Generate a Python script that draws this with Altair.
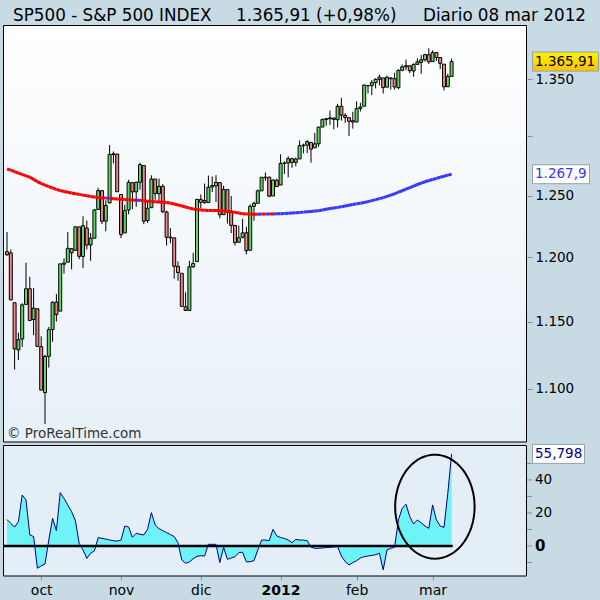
import altair as alt
import pandas as pd
import numpy as np

# ---------------- data ----------------
opens = [1204.50,1203.63,1164.55,1128.82,1136.91,1163.32,1175.39,1151.74,1159.93,
1131.21,1097.42,1124.03,1144.11,1165.03,1158.15,1194.60,1196.19,1206.96,1205.65,1224.47,1200.75,1223.46,1209.92,1215.39,1238.72,1254.19,1229.17,1243.97,1284.39,1284.96,
1251.00,1219.62,1238.25,1260.82,1253.21,1261.12,1275.18,1229.59,1240.12,1263.85,1251.70,1257.81,1236.56,1216.19,1215.62,1192.98,1187.48,1161.41,1158.67,1192.56,1196.72,
1246.91,1246.03,1244.33,1257.19,1258.14,1260.87,1234.48,1255.05,1236.83,1225.73,1212.12,1216.09,1219.74,1205.72,1241.25,1243.72,1254.00,1265.02,1265.38,1249.75,1262.82,
1258.86,1277.03,1277.30,1280.93,1277.83,1280.77,1292.02,1292.48,1294.82,1290.22,1293.65,1308.07,1314.49,1315.29,1315.96,1314.40,1326.28,1318.25,1316.16,1313.53,
1312.45,1324.24,1326.21,1344.32,1344.33,1347.04,1349.97,1351.21,1343.06,1351.30,1350.52,1342.61,1358.06,1361.22,1362.11,1357.53,1363.46,1365.20,1367.56,1372.20,
1365.90,1374.09,1369.59,1363.63,1343.39,1352.65]
highs = [1220.39,1206.30,1164.55,1141.72,1164.19,1195.86,1184.71,1175.87,1159.93,
1138.99,1125.12,1146.07,1165.55,1171.40,1194.91,1199.24,1220.25,1207.46,1224.61,1224.47,1233.10,1229.64,1219.53,1239.03,1256.55,1254.19,1246.28,1292.66,1287.08,1284.96,
1251.00,1242.48,1263.21,1260.82,1261.70,1277.55,1275.18,1246.22,1266.98,1263.85,1264.25,1259.61,1237.73,1223.51,1215.62,1196.81,1187.48,1172.66,1197.35,1203.67,1247.11,
1251.09,1260.08,1266.73,1266.03,1267.06,1260.87,1258.25,1255.05,1249.86,1225.73,1225.60,1231.04,1224.57,1242.82,1245.09,1255.22,1265.42,1269.37,1265.85,1263.54,1264.12,
1284.62,1278.73,1283.05,1281.84,1281.99,1296.46,1293.80,1296.82,1294.82,1303.00,1308.11,1315.49,1315.38,1322.28,1315.96,1328.30,1333.47,1320.06,1316.16,1321.41,
1330.52,1329.19,1345.34,1344.36,1349.24,1351.00,1354.32,1351.21,1353.35,1351.30,1355.87,1359.02,1363.40,1367.76,1362.70,1364.24,1368.92,1371.94,1373.09,1378.04,
1376.17,1374.53,1369.59,1363.63,1354.85,1368.72]
lows = [1201.29,1166.41,1114.22,1121.36,1131.07,1163.32,1150.40,1139.93,1131.34,
1098.92,1074.77,1115.68,1134.95,1150.26,1158.15,1187.30,1196.19,1190.58,1205.65,1198.55,1191.48,1206.31,1197.34,1215.39,1238.72,1226.79,1221.06,1243.97,1277.01,1253.16,
1215.42,1219.62,1234.81,1238.92,1240.75,1254.99,1226.64,1227.70,1240.12,1246.68,1244.34,1235.67,1209.43,1211.36,1183.16,1181.65,1161.79,1158.66,1158.67,1191.80,1196.72,
1239.73,1243.35,1244.33,1253.03,1244.80,1231.47,1234.48,1227.25,1219.43,1209.47,1212.12,1215.20,1202.37,1205.72,1229.51,1243.72,1254.00,1262.30,1248.64,1249.75,1257.46,
1258.86,1268.10,1265.26,1273.34,1274.55,1280.77,1285.41,1285.77,1277.58,1290.22,1290.99,1308.07,1309.17,1309.89,1306.06,1307.65,1313.60,1311.72,1300.49,1306.69,
1312.45,1321.57,1326.21,1337.52,1335.92,1341.95,1344.63,1337.35,1343.06,1340.83,1340.80,1341.22,1357.24,1358.11,1355.53,1352.28,1363.46,1354.92,1365.97,1363.81,
1365.90,1366.42,1359.13,1340.03,1343.39,1352.65]
closes = [1202.09,1166.76,1129.56,1136.43,1162.95,1175.38,1151.06,1160.40,1131.42,
1099.23,1123.95,1144.03,1164.97,1155.46,1194.89,1195.54,1207.25,1203.66,1224.58,1200.86,1225.38,1209.88,1215.39,1238.25,1254.19,1229.05,1242.00,1284.59,1285.09,1253.30,
1218.28,1237.90,1261.15,1253.23,1261.12,1275.92,1229.10,1239.69,1263.85,1251.78,1257.81,1236.91,1216.13,1215.65,1192.98,1188.04,1161.79,1158.67,1192.55,1195.19,1246.96,
1244.58,1244.28,1257.08,1258.47,1261.01,1234.35,1255.19,1236.47,1225.73,1211.82,1215.75,1219.66,1205.35,1241.30,1243.72,1254.00,1265.33,1265.43,1249.64,1263.02,1257.60,
1277.06,1277.30,1281.06,1277.81,1280.70,1292.08,1292.48,1295.50,1289.09,1293.67,1308.04,1314.50,1315.38,1316.00,1314.65,1326.06,1318.43,1316.33,1313.01,1312.41,
1324.09,1325.54,1344.90,1344.33,1347.05,1349.96,1351.95,1342.64,1351.77,1350.50,1343.23,1358.04,1361.23,1362.21,1357.66,1363.46,1365.74,1367.59,1372.18,1365.68,
1374.09,1369.63,1364.33,1343.36,1352.63,1365.91]
ma = [1272.3,1271.3,1270.1,1268.8,1267.7,1266.5,1265.5,1263.6,1261.7,1260.0,
1258.8,1257.5,1256.4,1255.3,1254.3,1253.5,1252.8,1252.2,1251.6,1251.1,
1250.5,1249.9,1249.3,1248.9,1248.5,1248.2,1248.0,1248.1,1247.5,1247.2,
1247.0,1246.8,1246.6,1246.4,1246.2,1246.3,1245.8,1245.5,1245.3,1245.1,
1244.9,1244.6,1244.3,1244.0,1243.2,1242.4,1241.5,1240.7,1239.8,1239.1,
1238.6,1238.2,1238.0,1237.9,1237.8,1237.8,1237.7,1237.5,1237.1,1236.8,
1236.3,1235.8,1235.2,1235.0,1234.9,1234.8,1234.8,1234.9,1234.9,1235.0,
1235.0,1235.1,1235.2,1235.4,1235.6,1235.8,1236.0,1236.2,1236.5,1236.8,
1237.1,1237.4,1237.7,1238.2,1238.8,1239.4,1239.9,1240.4,1240.9,1241.5,
1242.1,1242.7,1243.3,1243.8,1244.4,1245.1,1245.9,1246.8,1247.6,1248.4,
1249.4,1250.5,1251.6,1252.9,1254.1,1255.4,1256.7,1258.0,1259.3,1260.5,
1261.6,1262.6,1263.5,1264.4,1265.3,1266.2,1267.1,1267.9]
osc = [16.0,13.7,11.5,14.7,30.9,27.9,6.7,5.7,-13.5,-12.1,
-10.9,3.6,16.8,9.3,32.3,28.9,24.8,20.8,15.4,1.6,
-2.4,-7.5,-4.4,-3.0,5.1,4.6,4.2,3.6,3.2,3.0,
3.6,12.1,11.5,5.3,7.7,7.1,6.7,10.1,20.2,12.7,
10.5,9.3,8.1,6.9,5.7,2.0,-8.5,-10.5,-9.7,-7.7,
-6.3,-5.9,-6.1,1.0,1.0,1.0,-10.1,-0.8,-8.1,-7.3,
-6.5,-4.0,-3.8,-9.7,-9.5,-8.9,-2.4,3.6,3.6,3.2,
10.1,6.1,5.1,4.6,3.6,2.0,4.0,3.6,3.6,3.2,
-0.8,-1.4,-1.4,-1.2,-1.0,-0.8,-0.6,-0.4,-6.1,-9.5,
-11.5,-10.1,-8.9,-7.3,-6.5,-6.1,-5.7,-5.3,-4.4,-14.5,
-2.4,-1.4,-0.8,15.8,22.8,25.3,17.8,13.3,15.8,14.1,
12.1,10.7,24.8,15.8,12.1,11.3,31.9,55.798]

month_ticks = [9, 30, 51, 72, 92, 112]
month_labels = ["oct", "nov", "dic", "2012", "feb", "mar"]
price_ticks = [1100, 1150, 1200, 1250, 1300, 1350]
osc_ticks = [-10, 0, 10, 20, 30, 40, 50]
osc_labels = [20, 40]

title_name = "SP500 - S&P 500 INDEX"
title_freq = "Diario"
title_date = "08 mar 2012"
watermark = "\u00a9 ProRealTime.com"

n = len(closes)
assert len(opens) == n and len(highs) == n and len(lows) == n
assert len(ma) == n and len(osc) == n

def es(v, d):
    s = f"{v:,.{d}f}"
    return s.replace(",", "X").replace(".", ",").replace("X", ".")

# ---------------- geometry ----------------
W = 524
H1 = 417          # main panel
P2T, P2B = 420.5, 551  # lower panel top / bottom
H = 551

x_scale = alt.Scale(domain=[-4 / 3.8, (W - 4) / 3.8], nice=False, zero=False, padding=0)
main_y = alt.Scale(type="log", domain=[1062.1, 1399.4], range=[H1, 0], nice=False, padding=0)
osc_y = alt.Scale(domain=[-18.2, 60.9], range=[P2B, P2T], nice=False, zero=False, padding=0)

lbl_expr = " : ".join(f"datum.value == {t} ? '{l}'" for t, l in zip(month_ticks, month_labels)) + " : ''"
x_axis = alt.Axis(orient="bottom", values=month_ticks, labelExpr=lbl_expr, title=None,
                  grid=False, domain=False, tickSize=4, tickColor="#7d8d98",
                  labelFontSize=14, labelColor="black", labelPadding=3,
                  labelFontWeight={"condition": {"test": "datum.value == 72", "value": "bold"}, "value": "normal"})
main_axis = alt.Axis(orient="right", values=price_ticks, title=None, grid=False, domain=False,
                     tickSize=5, tickColor="#7d8d98", labelFontSize=13.5, labelColor="black",
                     labelPadding=3,
                     labelExpr="datum.value == 1300 ? '' : replace(format(datum.value, ','), ',', '.')")

GREEN, RED = "#62d662", "#ee8484"

df = pd.DataFrame({"idx": np.arange(n), "open": opens, "high": highs, "low": lows,
                   "close": closes, "ma": ma, "osc": osc})
df["dir"] = np.where(df["close"] >= df["open"], "up", "down")
df["zero"] = 0.0

seg = pd.DataFrame({"x0": df["idx"][:-1].values, "x1": df["idx"][1:].values,
                    "y0": df["ma"][:-1].values, "y1": df["ma"][1:].values})
seg["trend"] = np.where(seg["y1"] > seg["y0"], "up", "down")

one = pd.DataFrame({"a": [0]})

X = alt.X("idx:Q", scale=x_scale, axis=x_axis)

# ---------------- backgrounds ----------------
bg_main = alt.Chart(one).mark_rect(
    fill=alt.Gradient(gradient="linear", x1=0, x2=0, y1=0, y2=1,
                      stops=[alt.GradientStop(color="#ffffff", offset=0),
                             alt.GradientStop(color="#e7f0f8", offset=1)]),
    stroke="black", strokeWidth=1
).encode(x=alt.value(0.5), x2=alt.value(W - 0.5), y=alt.value(0.5), y2=alt.value(H1))

bg_osc = alt.Chart(one).mark_rect(fill="#e4eef7", stroke="black", strokeWidth=1).encode(
    x=alt.value(0.5), x2=alt.value(W - 0.5), y=alt.value(P2T), y2=alt.value(P2B))

# ---------------- main panel ----------------
wick = alt.Chart(df).mark_rule(color="black", strokeWidth=1).encode(
    x=X, y=alt.Y("low:Q", scale=main_y, axis=main_axis), y2="high:Q")
body = alt.Chart(df).mark_bar(size=3, stroke="black", strokeWidth=1).encode(
    x=X, y=alt.Y("open:Q", scale=main_y, axis=main_axis), y2="close:Q",
    fill=alt.Fill("dir:N", scale=alt.Scale(domain=["up", "down"], range=[GREEN, RED]), legend=None))
ma_line = alt.Chart(seg).mark_rule(strokeWidth=3).encode(
    x=alt.X("x0:Q", scale=x_scale, axis=x_axis), x2="x1:Q",
    y=alt.Y("y0:Q", scale=main_y, axis=main_axis), y2="y1:Q",
    color=alt.Color("trend:N", scale=alt.Scale(domain=["down", "up"], range=["#ff0000", "#3636ff"]), legend=None))

box_last = pd.DataFrame({"val": [closes[-1]], "label": [es(closes[-1], 2)]})
box_ma = pd.DataFrame({"val": [ma[-1]], "label": [es(ma[-1], 1)]})

yel_rect = alt.Chart(box_last).mark_rect(
    yOffset=-9.5, y2Offset=9.5, stroke="#8fa3b0", strokeWidth=1,
    fill=alt.Gradient(gradient="linear", x1=0, x2=0, y1=0, y2=1,
                      stops=[alt.GradientStop(color="#fff200", offset=0),
                             alt.GradientStop(color="#ffc200", offset=1)])
).encode(x=alt.value(529.5), x2=alt.value(595.5),
         y=alt.Y("val:Q", scale=main_y, axis=main_axis), y2="val:Q")
yel_text = alt.Chart(box_last).mark_text(align="left", baseline="middle", fontSize=13.5, color="black").encode(
    x=alt.value(532), y=alt.Y("val:Q", scale=main_y, axis=main_axis), text="label:N")
ma_rect = alt.Chart(box_ma).mark_rect(yOffset=-9.5, y2Offset=9.5, stroke="#8fa3b0", strokeWidth=1,
                                      fill="white").encode(
    x=alt.value(529.5), x2=alt.value(586.5),
    y=alt.Y("val:Q", scale=main_y, axis=main_axis), y2="val:Q")
ma_text = alt.Chart(box_ma).mark_text(align="left", baseline="middle", fontSize=13.5, color="#3636ff").encode(
    x=alt.value(532), y=alt.Y("val:Q", scale=main_y, axis=main_axis), text="label:N")

wm = alt.Chart(one).mark_text(align="left", baseline="alphabetic", fontSize=13.5, color="#333333").encode(
    x=alt.value(4), y=alt.value(H1 - 4), text=alt.value(watermark))

main = alt.layer(wick, body, ma_line, yel_rect, yel_text, ma_rect, ma_text)

# ---------------- oscillator panel ----------------
OY = alt.Y("osc:Q", scale=osc_y, axis=None)
area = alt.Chart(df).mark_area(color="#6ef3f6", opacity=1).encode(x=X, y=OY, y2="zero:Q")
zero_df = pd.DataFrame({"x0": [-4 / 3.8], "x1": [n - 1 + 0.3], "y": [0.0]})
zero_line = alt.Chart(zero_df).mark_rule(color="black", strokeWidth=2.5).encode(
    x=alt.X("x0:Q", scale=x_scale, axis=x_axis), x2="x1:Q",
    y=alt.Y("y:Q", scale=osc_y, axis=None))
osc_line = alt.Chart(df).mark_line(color="#000080", strokeWidth=1).encode(x=X, y=OY)

t = np.linspace(0, 2 * np.pi, 121)
ell = pd.DataFrame({"ex": 112.6 + 10.45 * np.cos(t), "ey": 23.8 + 31.5 * np.sin(t), "o": np.arange(121)})
ellipse = alt.Chart(ell).mark_line(color="black", strokeWidth=2).encode(
    x=alt.X("ex:Q", scale=x_scale, axis=x_axis), y=alt.Y("ey:Q", scale=osc_y, axis=None), order="o:Q")

tick_df = pd.DataFrame({"v": osc_ticks})
osc_tick = alt.Chart(tick_df).mark_rule(color="#7d8d98", strokeWidth=1).encode(
    x=alt.value(W), x2=alt.value(W + 5), y=alt.Y("v:Q", scale=osc_y, axis=None))
lab_df = pd.DataFrame({"v": osc_labels, "t": [str(v) for v in osc_labels]})
osc_lab = alt.Chart(lab_df).mark_text(align="left", baseline="middle", fontSize=13.5, color="black").encode(
    x=alt.value(532), y=alt.Y("v:Q", scale=osc_y, axis=None), text="t:N")
zero_lab = alt.Chart(pd.DataFrame({"v": [0], "t": ["0"]})).mark_text(
    align="left", baseline="middle", fontSize=15, fontWeight="bold", color="black").encode(
    x=alt.value(532), y=alt.Y("v:Q", scale=osc_y, axis=None), text="t:N")

box_osc = pd.DataFrame({"val": [osc[-1]], "label": [es(osc[-1], 3)]})
osc_rect = alt.Chart(box_osc).mark_rect(yOffset=-9.5, y2Offset=9.5, stroke="#8fa3b0", strokeWidth=1,
                                        fill="white").encode(
    x=alt.value(529.5), x2=alt.value(581.5), y=alt.Y("val:Q", scale=osc_y, axis=None), y2="val:Q")
osc_text = alt.Chart(box_osc).mark_text(align="left", baseline="middle", fontSize=13.5, color="#000080").encode(
    x=alt.value(532), y=alt.Y("val:Q", scale=osc_y, axis=None), text="label:N")

lower = alt.layer(area, zero_line, osc_line, ellipse, osc_tick, osc_lab, zero_lab, osc_rect, osc_text)

# ---------------- header ----------------
pct = (closes[-1] / closes[-2] - 1) * 100
hdr_price = f"{es(closes[-1], 2)} (+{es(pct, 2)}%)"
HF = 16.8
hdr1 = alt.Chart(one).mark_text(align="left", baseline="alphabetic", fontSize=HF, color="black").encode(
    x=alt.value(10), y=alt.value(-4), text=alt.value(title_name))
hdr2 = alt.Chart(one).mark_text(align="left", baseline="alphabetic", fontSize=HF, color="black").encode(
    x=alt.value(233), y=alt.value(-4), text=alt.value(hdr_price))
hdr3 = alt.Chart(one).mark_text(align="left", baseline="alphabetic", fontSize=HF, color="black").encode(
    x=alt.value(420), y=alt.value(-4), text=alt.value(title_freq))
hdr4 = alt.Chart(one).mark_text(align="right", baseline="alphabetic", fontSize=HF, color="black").encode(
    x=alt.value(583), y=alt.value(-4), text=alt.value(title_date))

chart = alt.layer(bg_main, bg_osc, main, lower, wm, hdr1, hdr2, hdr3, hdr4).resolve_scale(
    y="independent"
).properties(
    width=W, height=H,
    autosize=alt.AutoSizeParams(type="none"),
    padding={"left": 3, "top": 25, "right": 73, "bottom": 24},
).configure(font="DejaVu Sans", background="#c8dbe5").configure_view(stroke=None)

chart.save("out.html", embed_options={"renderer": "svg", "actions": False})
